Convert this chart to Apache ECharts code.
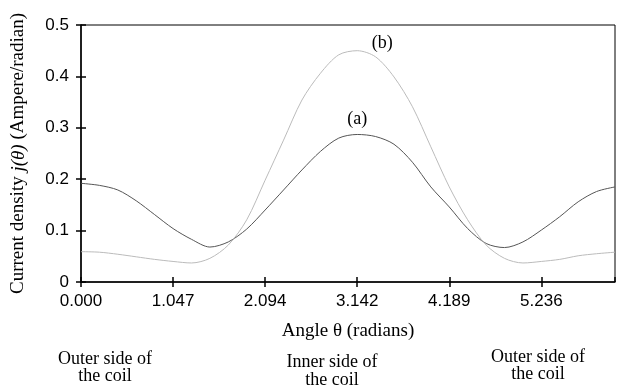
<!DOCTYPE html>
<html><head><meta charset="utf-8">
<script src="https://cdn.jsdelivr.net/npm/echarts@6/dist/echarts.min.js"></script>
<style>html,body{margin:0;padding:0;background:#fff}#c{width:639px;height:387px}</style>
</head><body><div id="c"></div>
<script>
// Angles (radians): 30 samples, step 2π/30
const angles = [0.000,0.209,0.419,0.628,0.838,1.047,1.257,1.466,1.676,1.885,2.094,2.304,2.513,2.723,2.932,3.142,3.351,3.560,3.770,3.979,4.189,4.398,4.608,4.817,5.027,5.236,5.445,5.655,5.864,6.074];
const curveA = [0.192,0.188,0.179,0.158,0.131,0.104,0.083,0.068,0.078,0.103,0.140,0.179,0.218,0.254,0.280,0.287,0.283,0.268,0.233,0.185,0.146,0.104,0.075,0.067,0.078,0.101,0.127,0.156,0.176,0.185];
const curveB = [0.059,0.058,0.054,0.049,0.044,0.040,0.037,0.046,0.072,0.121,0.198,0.276,0.354,0.406,0.442,0.450,0.438,0.399,0.341,0.263,0.185,0.121,0.072,0.046,0.037,0.040,0.044,0.051,0.055,0.058];
const xTickStep = 2*Math.PI/6;
const yTicks = [0, 0.1, 0.2, 0.3, 0.4, 0.5];

const serif = '"Liberation Serif","Times New Roman",serif';
const sans = '"Liberation Sans",Arial,sans-serif';
const chart = echarts.init(document.getElementById('c'));
const xBase = {type:'value', min:0, max:angles[angles.length-1], interval:xTickStep, position:'bottom', splitLine:{show:false}};
const yBase = {type:'value', min:yTicks[0], max:yTicks[yTicks.length-1], interval:0.1, position:'left', splitLine:{show:false}};
chart.setOption({
  animation:false,
  grid:{left:81, right:24, top:25, bottom:105, containLabel:false, outerBoundsMode:'none', show:true, borderColor:'#000', borderWidth:1},
  xAxis:[
    Object.assign({}, xBase, {
      name:'Angle θ (radians)', nameLocation:'middle', nameGap:40,
      nameTextStyle:{fontFamily:serif, fontSize:19, color:'#000'},
      axisLine:{show:true, lineStyle:{color:'#000', width:1.5}},
      axisTick:{show:true, inside:false, length:5, lineStyle:{color:'#000', width:1.5}},
      axisLabel:{show:true, margin:11, fontFamily:sans, fontSize:17, color:'#000', showMaxLabel:false,
        formatter:v=>v.toFixed(3)}
    }),
    Object.assign({}, xBase, {
      axisLine:{show:false}, axisLabel:{show:false},
      axisTick:{show:true, inside:true, length:5, lineStyle:{color:'#000', width:1.5}}
    })
  ],
  yAxis:[
    Object.assign({}, yBase, {
      name:'Current density {i|j(θ)} (Ampere/radian)', nameLocation:'middle', nameGap:53, nameRotate:90,
      nameTextStyle:{fontFamily:serif, fontSize:19, color:'#000',
        rich:{i:{fontFamily:serif, fontSize:19, fontStyle:'italic', color:'#000'}}},
      axisLine:{show:true, lineStyle:{color:'#000', width:1.5}},
      axisTick:{show:true, inside:false, length:5, lineStyle:{color:'#000', width:1.5}},
      axisLabel:{show:true, margin:12, fontFamily:sans, fontSize:17, color:'#000'}
    }),
    Object.assign({}, yBase, {
      axisLine:{show:false}, axisLabel:{show:false},
      axisTick:{show:true, inside:true, length:5, lineStyle:{color:'#000', width:1.5}}
    })
  ],
  series:[
    {name:'(a)', type:'line', xAxisIndex:0, yAxisIndex:0, smooth:0.3, symbol:'none',
     data:angles.map((x,i)=>[x,curveA[i]]), lineStyle:{color:'#555', width:1},
     markPoint:{symbol:'circle', symbolSize:0, silent:true,
       data:[{coord:[angles[15], curveA[15]], label:{show:true, formatter:'(a)', offset:[0,-15], fontFamily:serif, fontSize:18, color:'#000'}}]}},
    {name:'(b)', type:'line', xAxisIndex:0, yAxisIndex:0, smooth:0.3, symbol:'none',
     data:angles.map((x,i)=>[x,curveB[i]]), lineStyle:{color:'#bbb', width:1},
     markPoint:{symbol:'circle', symbolSize:0, silent:true,
       data:[{coord:[angles[15], curveB[15]], label:{show:true, formatter:'(b)', offset:[25,-7], fontFamily:serif, fontSize:18, color:'#000'}}]}}
  ],
  graphic:[
    {type:'text', x:105, y:351, style:{text:'Outer side of\nthe coil', font:'18px '+serif, fill:'#000', align:'center', verticalAlign:'top', lineHeight:17}},
    {type:'text', x:332, y:353, style:{text:'Inner side of\nthe coil', font:'18px '+serif, fill:'#000', align:'center', verticalAlign:'top', lineHeight:18}},
    {type:'text', x:538, y:349, style:{text:'Outer side of\nthe coil', font:'18px '+serif, fill:'#000', align:'center', verticalAlign:'top', lineHeight:17}}
  ]
});
</script></body></html>
